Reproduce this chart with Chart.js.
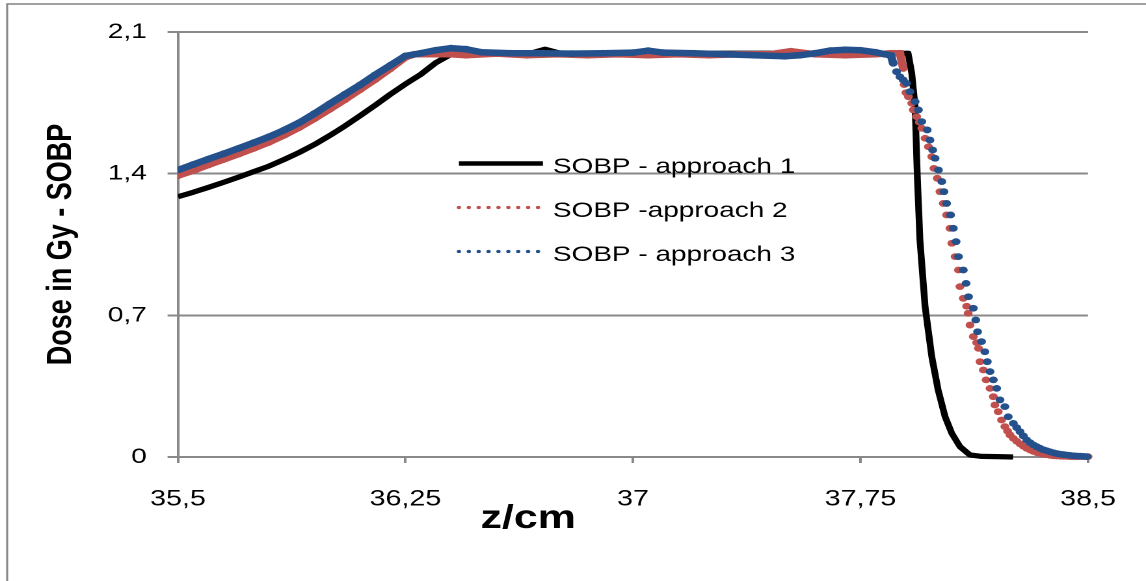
<!DOCTYPE html>
<html>
<head>
<meta charset="utf-8">
<title>SOBP</title>
<script src="https://cdn.jsdelivr.net/npm/chart.js@4.4.1/dist/chart.umd.min.js"></script>
<style>
  html, body { margin: 0; padding: 0; background: #fff; overflow: hidden; }
  /* the original picture is stretched sideways, so draw narrow and scale up */
  #wrap { width: 881px; height: 581px; transform: scaleX(1.30079); transform-origin: 0 0; }
</style>
</head>
<body>
<div id="wrap"><canvas id="chart"></canvas></div>
<script>
const seriesNames = ['SOBP - approach 1', 'SOBP -approach 2', 'SOBP - approach 3'];
const xTitle = 'z/cm';
const yTitle = 'Dose in Gy - SOBP';
const xTickValues = [35.5, 36.25, 37, 37.75, 38.5];
const xTickLabels = ['35,5', '36,25', '37', '37,75', '38,5'];
const yTickValues = [0, 0.7, 1.4, 2.1];
const yTickLabels = ['0', '0,7', '1,4', '2,1'];

// approach 1
const zApp1 = [35.5, 35.55, 35.6, 35.65, 35.7, 35.75, 35.8, 35.85, 35.9, 35.95, 36.0, 36.05, 36.1, 36.15, 36.2, 36.25, 36.3, 36.35, 36.4, 36.45,
  36.55, 36.65, 36.71, 36.76, 36.9, 37.1, 37.3, 37.5, 37.7, 37.85,
  37.907, 37.919, 37.93, 37.937, 37.946, 37.963, 37.985, 38.006, 38.029, 38.051, 38.078, 38.111, 38.15, 38.2, 38.253];
const doseApp1 = [1.286, 1.308, 1.332, 1.357, 1.383, 1.41, 1.437, 1.47, 1.505, 1.544, 1.588, 1.635, 1.686, 1.738, 1.792, 1.843, 1.89, 1.948, 1.99, 1.995,
  1.993, 1.99, 2.015, 1.995, 1.995, 1.993, 1.995, 1.995, 1.99, 1.993,
  1.995, 1.896, 1.731, 1.402, 1.072, 0.743, 0.496, 0.331, 0.199, 0.117, 0.051, 0.01, 0.003, 0.002, 0];

// approach 2
const zApp2 = [35.5, 35.55, 35.6, 35.65, 35.7, 35.75, 35.8, 35.85, 35.9, 35.95, 36.0, 36.05, 36.1, 36.15, 36.2, 36.25,
  36.28, 36.35, 36.4, 36.45, 36.55, 36.65, 36.75, 36.85, 36.95, 37.05, 37.15, 37.25, 37.35, 37.45,
  37.52, 37.6, 37.7, 37.8, 37.85, 37.88,
  37.891, 37.894, 37.9, 37.908, 37.919, 37.924, 37.935, 37.944, 37.952, 37.963,
  37.974, 37.985, 37.992, 38.003, 38.012, 38.023, 38.034, 38.045, 38.051, 38.062,
  38.073, 38.078, 38.089, 38.1, 38.105, 38.111, 38.122, 38.133, 38.139, 38.144,
  38.155, 38.164, 38.177, 38.188, 38.193, 38.204, 38.215, 38.226, 38.235, 38.243,
  38.254, 38.265, 38.276, 38.287, 38.298, 38.309, 38.32, 38.331, 38.342, 38.353,
  38.364, 38.375, 38.386, 38.397, 38.41, 38.42, 38.43, 38.44, 38.45, 38.46,
  38.47, 38.48, 38.49, 38.5];
const doseApp2 = [1.39, 1.415, 1.443, 1.47, 1.497, 1.525, 1.555, 1.59, 1.628, 1.672, 1.718, 1.765, 1.815, 1.865, 1.918, 1.975,
  1.99, 1.99, 1.99, 1.985, 1.993, 1.985, 1.99, 1.985, 1.99, 1.985, 1.99, 1.985, 1.99, 1.99,
  2.005, 1.99, 1.985, 1.99, 1.995, 1.995,
  1.92, 1.84, 1.80, 1.78, 1.748, 1.715, 1.682, 1.655, 1.624, 1.575,
  1.533, 1.484, 1.426, 1.377, 1.311, 1.253, 1.196, 1.13, 1.056, 0.99,
  0.924, 0.842, 0.784, 0.745, 0.71, 0.652, 0.595, 0.565, 0.537, 0.471,
  0.43, 0.381, 0.339, 0.298, 0.257, 0.224, 0.183, 0.15, 0.128, 0.109,
  0.092, 0.078, 0.065, 0.053, 0.043, 0.035, 0.028, 0.022, 0.018, 0.014,
  0.011, 0.008, 0.006, 0.005, 0.004, 0.003, 0.003, 0.002, 0.002, 0.002,
  0.002, 0.002, 0.002, 0.002];

// approach 3
const zApp3 = [35.5, 35.55, 35.6, 35.65, 35.7, 35.75, 35.8, 35.85, 35.9, 35.95, 36.0, 36.05, 36.1, 36.15, 36.2, 36.25,
  36.3, 36.35, 36.4, 36.45, 36.5, 36.6, 36.7, 36.8, 36.9, 37.0, 37.05, 37.1, 37.2, 37.3, 37.4,
  37.5, 37.55, 37.6, 37.65, 37.7, 37.75, 37.8, 37.83, 37.85,
  37.858, 37.869, 37.88, 37.891, 37.902, 37.913, 37.93, 37.941, 37.952, 37.97,
  37.979, 37.988, 37.996, 38.007, 38.018, 38.025, 38.034, 38.047, 38.056, 38.065,
  38.073, 38.089, 38.098, 38.106, 38.122, 38.13, 38.136, 38.149, 38.16, 38.168,
  38.177, 38.188, 38.199, 38.21, 38.226, 38.237, 38.254, 38.265, 38.276, 38.287,
  38.298, 38.309, 38.32, 38.331, 38.342, 38.353, 38.364, 38.375, 38.386, 38.397,
  38.408, 38.419, 38.43, 38.441, 38.452, 38.463, 38.474, 38.485, 38.496];
const doseApp3 = [1.418, 1.445, 1.472, 1.498, 1.525, 1.553, 1.582, 1.615, 1.652, 1.697, 1.745, 1.792, 1.838, 1.888, 1.935, 1.982,
  1.995, 2.01, 2.02, 2.015, 2.0, 1.995, 1.995, 1.993, 1.995, 1.998, 2.008, 1.998, 1.995, 1.99, 1.985,
  1.98, 1.985, 1.995, 2.008, 2.012, 2.01, 2.0, 1.99, 1.985,
  1.945, 1.904, 1.879, 1.863, 1.846, 1.805, 1.756, 1.715, 1.657, 1.616,
  1.566, 1.517, 1.476, 1.418, 1.361, 1.311, 1.253, 1.196, 1.13, 1.064,
  0.99, 0.924, 0.858, 0.792, 0.735, 0.677, 0.619, 0.57, 0.52, 0.471,
  0.422, 0.381, 0.339, 0.282, 0.249, 0.199, 0.166, 0.145, 0.125, 0.104,
  0.084, 0.071, 0.06, 0.051, 0.043, 0.036, 0.031, 0.026, 0.021, 0.017,
  0.014, 0.012, 0.01, 0.008, 0.006, 0.005, 0.004, 0.003, 0.002];

const gray = '#898989';
const red = '#C0504D';
const blue = '#24508C';
const font = '"Liberation Sans", Arial, sans-serif';

const toPoints = (zs, ds) => zs.map((z, i) => ({ x: z, y: ds[i] }));

// frame, x title and the legend that sits inside the plot
const decorations = {
  id: 'decorations',
  beforeDraw(chart) {
    const ctx = chart.ctx;
    ctx.save();
    ctx.strokeStyle = gray;
    ctx.lineWidth = 1.6;
    ctx.strokeRect(5.5, 4, chart.width + 20, chart.height + 20);
    ctx.restore();
  },
  afterDraw(chart) {
    const ctx = chart.ctx;
    ctx.save();
    ctx.fillStyle = '#000';
    ctx.font = 'bold 33px ' + font;
    ctx.textAlign = 'center';
    ctx.textBaseline = 'alphabetic';
    ctx.fillText(xTitle, 406, 528);

    ctx.font = '21.5px ' + font;
    ctx.textAlign = 'left';
    chart.data.datasets.forEach((ds, i) => {
      const base = 173 + i * 44;
      const ly = base - 9.5;
      ctx.beginPath();
      ctx.moveTo(352.8, ly);
      ctx.lineTo(417.4, ly);
      ctx.strokeStyle = ds.borderColor;
      if (i === 0) {
        ctx.setLineDash([]);
        ctx.lineWidth = 4.5;
        ctx.lineCap = 'butt';
      } else {
        ctx.setLineDash([0, 7.6]);
        ctx.lineWidth = 3.3;
        ctx.lineCap = 'round';
      }
      ctx.stroke();
      ctx.fillText(ds.label, 425, base);
    });
    ctx.restore();
  }
};

const clipLeft = { left: 0, top: 10, right: 10, bottom: 10 };

new Chart(document.getElementById('chart'), {
  type: 'line',
  data: {
    datasets: [
      {
        label: seriesNames[0],
        data: toPoints(zApp1, doseApp1),
        borderColor: '#000',
        borderWidth: 5.2,
        pointRadius: 0,
        borderJoinStyle: 'round',
        tension: 0,
        clip: clipLeft,
        order: 3
      },
      {
        label: seriesNames[1],
        data: toPoints(zApp2, doseApp2),
        borderColor: red,
        backgroundColor: red,
        borderWidth: 6.5,
        pointRadius: 3.4,
        pointBorderWidth: 0,
        pointBackgroundColor: red,
        tension: 0,
        clip: clipLeft,
        segment: { borderColor: c => c.p0.parsed.x >= 37.889 ? 'rgba(0,0,0,0)' : red },
        order: 2
      },
      {
        label: seriesNames[2],
        data: toPoints(zApp3, doseApp3),
        borderColor: blue,
        backgroundColor: blue,
        borderWidth: 6.5,
        pointRadius: 3.4,
        pointBorderWidth: 0,
        pointBackgroundColor: blue,
        tension: 0,
        clip: clipLeft,
        segment: { borderColor: c => c.p0.parsed.x >= 37.855 ? 'rgba(0,0,0,0)' : blue },
        order: 1
      }
    ]
  },
  options: {
    responsive: true,
    maintainAspectRatio: false,
    animation: false,
    devicePixelRatio: 2,
    layout: { padding: { top: 32, right: 44.6, left: 0, bottom: 0 } },
    plugins: { legend: { display: false }, tooltip: { enabled: false } },
    scales: {
      x: {
        type: 'linear',
        min: 35.5,
        max: 38.5,
        afterBuildTicks: s => { s.ticks = xTickValues.map(v => ({ value: v })); },
        afterFit: s => { s.height = 124; },
        ticks: {
          callback: (v, i) => xTickLabels[i],
          font: { family: font, size: 22 },
          color: '#000',
          padding: 23,
          maxRotation: 0,
          autoSkip: false
        },
        grid: { drawOnChartArea: false, drawTicks: true, tickLength: 6, color: gray, lineWidth: 2 },
        border: { color: gray, width: 2 }
      },
      y: {
        type: 'linear',
        min: 0,
        max: 2.1,
        afterBuildTicks: s => { s.ticks = yTickValues.map(v => ({ value: v })); },
        afterFit: s => { s.width = 136.8; },
        ticks: {
          callback: (v, i) => yTickLabels[i],
          font: { family: font, size: 21.5 },
          color: '#000',
          padding: 16
        },
        grid: { color: gray, lineWidth: 2, tickLength: 8 },
        border: { color: gray, width: 2 },
        title: {
          display: true,
          text: yTitle,
          color: '#000',
          font: { family: font, size: 27, weight: 'bold' },
          padding: { top: 31, bottom: 0 }
        }
      }
    }
  },
  plugins: [decorations]
});
</script>
</body>
</html>
